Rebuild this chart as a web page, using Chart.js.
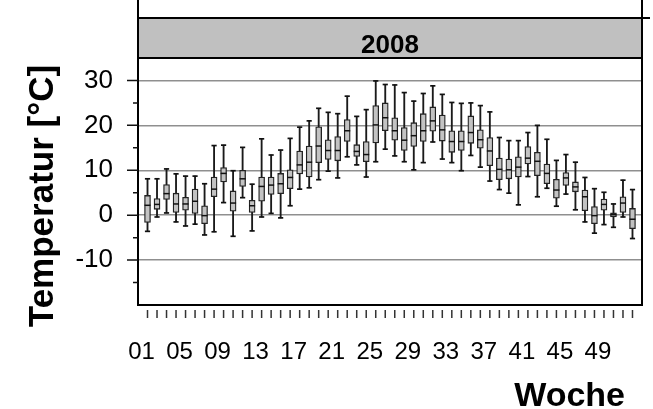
<!DOCTYPE html>
<html><head><meta charset="utf-8">
<script src="https://cdn.jsdelivr.net/npm/chart.js@4.4.1/dist/chart.umd.min.js"></script>
<style>html,body{margin:0;padding:0;background:#fff;overflow:hidden}</style>
</head><body>
<canvas id="c" width="653" height="409"></canvas>
<script>
// ---- data ----
const weeks = [1,2,3,4,5,6,7,8,9,10,11,12,13,14,15,16,17,18,19,20,21,22,23,24,25,26,27,28,29,30,31,32,33,34,35,36,37,38,39,40,41,42,43,44,45,46,47,48,49,50,51,52];
const whiskerLow = [-3.6,-0.4,0.5,-1.5,-2.4,-2.0,-4.4,-3.7,2.8,-4.7, 3.9,-3.5,-0.4,0.4,-0.6,2.1,5.8,6.1,7.9,9.8, 8.3,13.0,11.2,8.5,11.9,14.7,13.2,11.9,10.1,11.7, 16.3,12.5,11.7,9.9,13.3,10.7,7.6,5.7,4.9,2.3, 8.6,4.1,6.0,2.0,4.7,1.2,-1.5,-4.0,-2.1,-2.7, -0.4,-5.2];
const quartile1 = [-1.6,1.3,3.5,0.6,1.1,0.4,-1.9,4.1,7.4,0.9, 6.4,0.6,3.1,4.6,4.8,5.9,9.2,8.5,11.7,12.4, 12.1,16.4,13.1,11.9,16.1,18.8,16.7,14.4,15.3,16.4, 18.7,16.5,14.0,14.4,16.0,14.9,11.0,7.9,8.1,8.5, 11.4,8.8,7.0,3.8,6.6,5.2,1.0,-1.9,1.1,-0.4, 0.6,-3.0];
const medians = [2.2,2.4,4.8,2.5,2.5,3.1,-0.1,5.8,9.3,2.7, 8.1,2.1,6.4,6.7,7.0,8.4,11.2,11.8,15.4,14.4, 14.4,18.8,14.2,13.5,20.1,21.7,18.8,16.7,17.7,18.8, 21.0,19.0,16.4,16.4,18.4,16.8,14.3,10.2,10.1,10.7, 12.7,12.0,9.3,5.6,8.3,6.3,4.1,-0.1,2.4,0.1, 2.7,-0.9];
const quartile3 = [4.4,3.7,6.8,4.9,4.0,5.8,2.1,8.5,10.6,5.4, 10.0,3.3,8.5,8.5,9.3,10.1,14.3,15.4,19.7,16.8, 17.5,21.3,15.7,16.4,24.4,25.0,21.7,19.5,20.6,22.6, 24.1,22.3,18.8,18.8,22.1,19.0,17.3,12.7,12.5,13.0, 15.3,14.0,11.4,8.0,9.5,7.4,5.6,1.9,3.6,0.5, 4.1,1.5];
const whiskerHigh = [8.1,8.1,10.3,9.2,8.7,8.7,7.0,15.5,15.6,9.9, 15.1,6.9,17.0,13.4,14.5,17.1,19.6,21.0,23.8,22.9, 22.6,26.5,22.0,23.5,29.9,29.1,29.0,27.3,25.4,27.1, 28.8,26.9,25.1,24.9,25.0,24.4,23.0,17.3,16.6,16.6, 18.4,20.0,16.9,12.2,13.5,11.8,8.4,5.9,5.1,2.5, 7.8,5.7];
const xTickLabels = ['01','05','09','13','17','21','25','29','33','37','41','45','49'];
const yTickValues = [-10,0,10,20,30];
const yTickMarks = [-15,-10,-5,0,5,10,15,20,25,30];
const panelTitle = '2008';
const xTitle = 'Woche';
const yTitle = 'Temperatur [°C]';

const FONT = '"Liberation Sans", Arial, Helvetica, sans-serif';

const framePlugin = {
  id: 'frame',
  afterDraw(chart) {
    const {ctx, chartArea: a, scales: {x, y}} = chart;
    const stripH = 40, stripTop = a.top - stripH;
    ctx.save();
    ctx.fillStyle = '#c0c0c0';
    ctx.fillRect(a.left, stripTop, a.right - a.left, stripH);
    ctx.strokeStyle = '#000';
    ctx.lineWidth = 2;
    ctx.strokeRect(a.left, stripTop, a.right - a.left, stripH);
    ctx.strokeRect(a.left, a.top, a.right - a.left, a.bottom - a.top);
    ctx.beginPath();
    ctx.moveTo(a.left, 0); ctx.lineTo(a.left, stripTop);
    ctx.moveTo(a.right, 0); ctx.lineTo(a.right, stripTop);
    ctx.moveTo(a.right, stripTop); ctx.lineTo(a.right + 8, stripTop);
    ctx.stroke();
    // y tick marks
    ctx.lineWidth = 1.5;
    ctx.strokeStyle = '#111';
    ctx.beginPath();
    yTickMarks.forEach(v => {
      const yy = y.getPixelForValue(v);
      const len = v % 10 === 0 ? 11 : 5;
      ctx.moveTo(a.left - len, yy); ctx.lineTo(a.left, yy);
    });
    ctx.stroke();
    // x tick marks
    ctx.strokeStyle = '#333';
    ctx.beginPath();
    weeks.forEach(w => {
      const xx = x.getPixelForValue(w);
      ctx.moveTo(xx, a.bottom + 5); ctx.lineTo(xx, a.bottom + 13);
    });
    ctx.stroke();
    // texts
    ctx.fillStyle = '#000';
    ctx.font = 'bold 26px ' + FONT;
    ctx.textAlign = 'center';
    ctx.textBaseline = 'alphabetic';
    ctx.fillText(panelTitle, (a.left + a.right) / 2, a.top - 5);
    ctx.font = 'bold 34px ' + FONT;
    ctx.textAlign = 'right';
    ctx.fillText(xTitle, 625, 406);
    ctx.translate(43, 196);
    ctx.rotate(-Math.PI / 2);
    ctx.font = 'bold 35px ' + FONT;
    ctx.textAlign = 'center';
    ctx.textBaseline = 'middle';
    ctx.fillText(yTitle, 0, 0);
    ctx.restore();
  }
};

const pts = arr => weeks.map((w, i) => ({x: w, y: arr[i]}));
const rng = (lo, hi) => weeks.map((w, i) => ({x: w, y: [lo[i], hi[i]]}));

new Chart(document.getElementById('c'), {
  type: 'bar',
  data: {
    datasets: [
      {type: 'line', showLine: false, data: pts(medians), pointStyle: 'line', pointRadius: 3, pointHoverRadius: 3,
       borderColor: '#111', borderWidth: 1.5, order: 0},
      {type: 'line', showLine: false, data: pts(whiskerLow).concat(pts(whiskerHigh)), pointStyle: 'line', pointRadius: 2.6, pointHoverRadius: 2.6,
       borderColor: '#111', borderWidth: 1.7, order: 1},
      {type: 'bar', data: rng(quartile1, quartile3), backgroundColor: '#c3c3c3', borderColor: '#222', borderWidth: 1.3,
       barThickness: 6, grouped: false, borderSkipped: false, order: 2},
      {type: 'bar', data: rng(whiskerLow, whiskerHigh), backgroundColor: '#1a1a1a', borderWidth: 0,
       barThickness: 1.2, grouped: false, order: 3}
    ]
  },
  options: {
    responsive: false,
    animation: false,
    devicePixelRatio: 1,
    layout: {padding: {top: 58, right: 11, left: 0, bottom: 0}},
    plugins: {legend: {display: false}, tooltip: {enabled: false}, title: {display: false}},
    scales: {
      x: {
        type: 'linear', min: 0, max: 53, offset: false,
        afterBuildTicks: s => { s.ticks = weeks.map(v => ({value: v})); },
        afterFit: s => { s.height = 104; },
        grid: {display: true, drawOnChartArea: false, drawTicks: true, tickLength: 33, tickColor: 'rgba(0,0,0,0)'},
        border: {display: false},
        ticks: {
          autoSkip: false, maxRotation: 0, padding: 0, labelOffset: -6,
          color: '#000', font: {family: FONT, size: 24},
          callback: v => xTickLabels.find(l => Number(l) === v) || ''
        }
      },
      y: {
        type: 'linear', min: -20, max: 35,
        afterBuildTicks: s => { s.ticks = yTickValues.map(v => ({value: v})); },
        afterFit: s => { s.width = 138; },
        grid: {color: '#8f8f8f', lineWidth: 1.5, drawTicks: false},
        border: {display: false},
        ticks: {padding: 25, color: '#000', font: {family: FONT, size: 26}}
      }
    }
  },
  plugins: [framePlugin]
});
</script>
</body></html>
